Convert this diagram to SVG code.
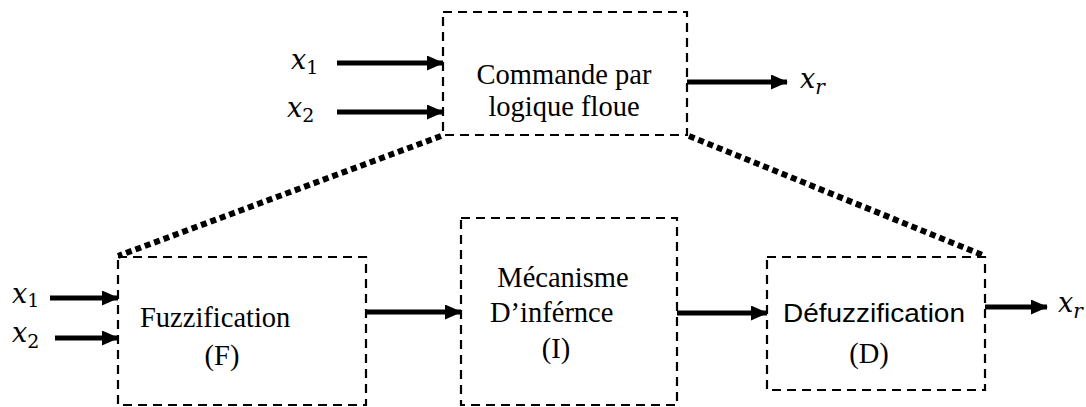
<svg xmlns="http://www.w3.org/2000/svg" width="1086" height="407" viewBox="0 0 1086 407">
<style>
.box{fill:none;stroke:#000;stroke-width:2.2;stroke-dasharray:9,6}
.dot{fill:none;stroke:#000;stroke-width:6;stroke-dasharray:6,4}
.arr{fill:none;stroke:#000;stroke-width:5;marker-end:url(#ah)}
.t{font-family:"Liberation Serif","Times New Roman",serif;font-size:28.5px;fill:#000}
.s{font-family:"Liberation Sans",Arial,sans-serif;font-size:26px;fill:#000}
.v{font-family:"DejaVu Serif","Liberation Serif",serif;font-style:italic;font-size:27px;fill:#000}
.sub{font-style:normal;font-size:19px}
.subi{font-style:italic;font-size:20px}
</style>
<defs>
<marker id="ah" markerUnits="userSpaceOnUse" markerWidth="17" markerHeight="15" refX="16" refY="7.5" orient="auto">
<polygon points="0,0 17,7.5 0,15"/>
</marker>
</defs>
<g id="top-node">
<rect class="box" x="443" y="12" width="244" height="123"/>
<text class="t" x="564" y="84" text-anchor="middle">Commande par</text>
<text class="t" x="564" y="116" text-anchor="middle">logique floue</text>
</g>
<g id="fuzzification">
<rect class="box" x="118" y="257" width="248" height="148"/>
<text class="t" x="140" y="327">Fuzzification</text>
<text class="t" x="222" y="365" text-anchor="middle">(F)</text>
</g>
<g id="inference">
<rect class="box" x="461" y="218" width="216" height="187"/>
<text class="t" x="563" y="287" text-anchor="middle">Mécanisme</text>
<text class="t" x="490" y="322">D’inférnce</text>
<text class="t" x="556" y="358" text-anchor="middle">(I)</text>
</g>
<g id="defuzzification">
<rect class="box" x="767" y="257" width="218" height="133"/>
<text class="s" x="783" y="322" textLength="182" lengthAdjust="spacingAndGlyphs">Défuzzification</text>
<text class="t" x="869" y="363" text-anchor="middle">(D)</text>
</g>
<g id="labels">
<text class="v" x="291" y="69">x<tspan class="sub" dy="5">1</tspan></text>
<text class="v" x="287" y="117">x<tspan class="sub" dy="5">2</tspan></text>
<text class="v" x="800" y="88">x<tspan class="subi" dy="6">r</tspan></text>
<text class="v" x="12" y="303">x<tspan class="sub" dy="4">1</tspan></text>
<text class="v" x="12" y="342">x<tspan class="sub" dy="6">2</tspan></text>
<text class="v" x="1058" y="312">x<tspan class="subi" dy="6">r</tspan></text>
</g>
<g id="connectors">
<line class="arr" x1="337" y1="63" x2="443" y2="63"/>
<line class="arr" x1="337" y1="112" x2="443" y2="112"/>
<line class="arr" x1="687" y1="82" x2="787" y2="82"/>
<line class="arr" x1="50" y1="298" x2="118" y2="298"/>
<line class="arr" x1="55" y1="338" x2="118" y2="338"/>
<line class="arr" x1="366" y1="312" x2="461" y2="312"/>
<line class="arr" x1="677" y1="313" x2="767" y2="313"/>
<line class="arr" x1="985" y1="307" x2="1047" y2="307"/>
<line class="dot" x1="441" y1="136" x2="118" y2="256"/>
<line class="dot" x1="689" y1="136" x2="985" y2="256"/>
</g>
</svg>
